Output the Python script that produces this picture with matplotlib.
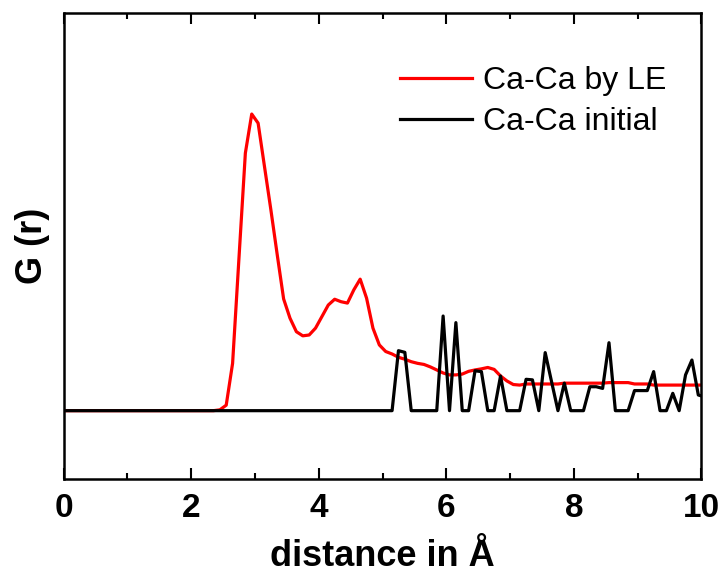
import numpy as np
import matplotlib.pyplot as plt

plt.rcParams["font.family"] = ["Liberation Sans", "DejaVu Sans"]

# radial grid, bin centres every 0.1 A (0.05 ... 10.05)
r = np.round(0.05 + 0.1 * np.arange(101), 2)

# Ca-Ca G(r) from the LE fit, non-zero part (r >= 2.45)
le_r0 = 2.45
le_vals = [
    0.03, 0.20, 1.72, 5.55, 9.36, 10.78, 10.45, 8.87, 7.30, 5.66,
    4.06, 3.36, 2.87, 2.72, 2.75, 3.00, 3.42, 3.84, 4.05, 3.96,
    3.91, 4.39, 4.78, 4.09, 3.00, 2.39, 2.15, 2.06, 1.94, 1.87,
    1.78, 1.72, 1.68, 1.59, 1.48, 1.37, 1.30, 1.30, 1.33, 1.43,
    1.48, 1.52, 1.57, 1.50, 1.26, 1.08, 0.95, 0.93, 0.97, 0.97,
    0.97, 0.97, 0.97, 0.97, 1.00, 1.00, 1.00, 1.00, 1.00, 1.00,
    1.00, 1.02, 1.02, 1.02, 1.02, 0.97, 0.97, 0.97, 0.93, 0.93,
    0.93, 0.93, 0.93, 0.93, 0.93, 0.93, 0.93,
]

# initial Ca-Ca G(r), non-zero part (r >= 5.15)
init_r0 = 5.15
init_vals = [
    0.00, 2.18, 2.12, 0.00, 0.00, 0.00, 0.00, 0.00, 3.44, 0.00,
    3.20, 0.00, 0.00, 1.45, 1.42, 0.00, 0.00, 1.26, 0.00, 0.00,
    0.00, 1.14, 1.12, 0.00, 2.11, 1.05, 0.00, 1.00, 0.00, 0.00,
    0.00, 0.87, 0.87, 0.81, 2.47, 0.00, 0.00, 0.00, 0.73, 0.73,
    0.73, 1.42, 0.00, 0.00, 0.63, 0.00, 1.30, 1.84, 0.57, 0.50,
]

g_le = np.zeros_like(r)
g_le[r >= le_r0 - 1e-6] = le_vals
g_init = np.zeros_like(r)
g_init[r >= init_r0 - 1e-6] = init_vals

fig = plt.figure(figsize=(7.22, 5.77), dpi=100)
ax = fig.add_axes([0.088, 0.170, 0.8836, 0.8083])

ax.plot(r, g_le, color="red", lw=2.3, label="Ca-Ca by LE")
ax.plot(r, g_init, color="black", lw=2.3, label="Ca-Ca initial")

ax.set_xlim(0, 10)
ax.set_ylim(-2.48, 14.47)
ax.set_yticks([])
ax.set_xticks([0, 2, 4, 6, 8, 10])
ax.set_xticks(np.arange(1, 10, 2), minor=True)
ax.tick_params(axis="x", which="both", direction="in", top=True, width=1.5,
               labelsize=24, pad=10)
ax.tick_params(axis="x", which="major", length=8)
ax.tick_params(axis="x", which="minor", length=4)
for lbl in ax.get_xticklabels():
    lbl.set_fontweight("bold")
for s in ax.spines.values():
    s.set_linewidth(1.8)

ax.set_xlabel("distance in Å", fontsize=26, fontweight="bold", labelpad=11)
ax.set_ylabel("G (r)", fontsize=26, fontweight="bold", labelpad=10)

ax.legend(loc="upper right", bbox_to_anchor=(0.965, 0.912), frameon=False,
          fontsize=23, handlelength=2.25, handletextpad=0.35,
          labelspacing=0.33, borderaxespad=0)

fig.savefig("out.png", dpi=100)
